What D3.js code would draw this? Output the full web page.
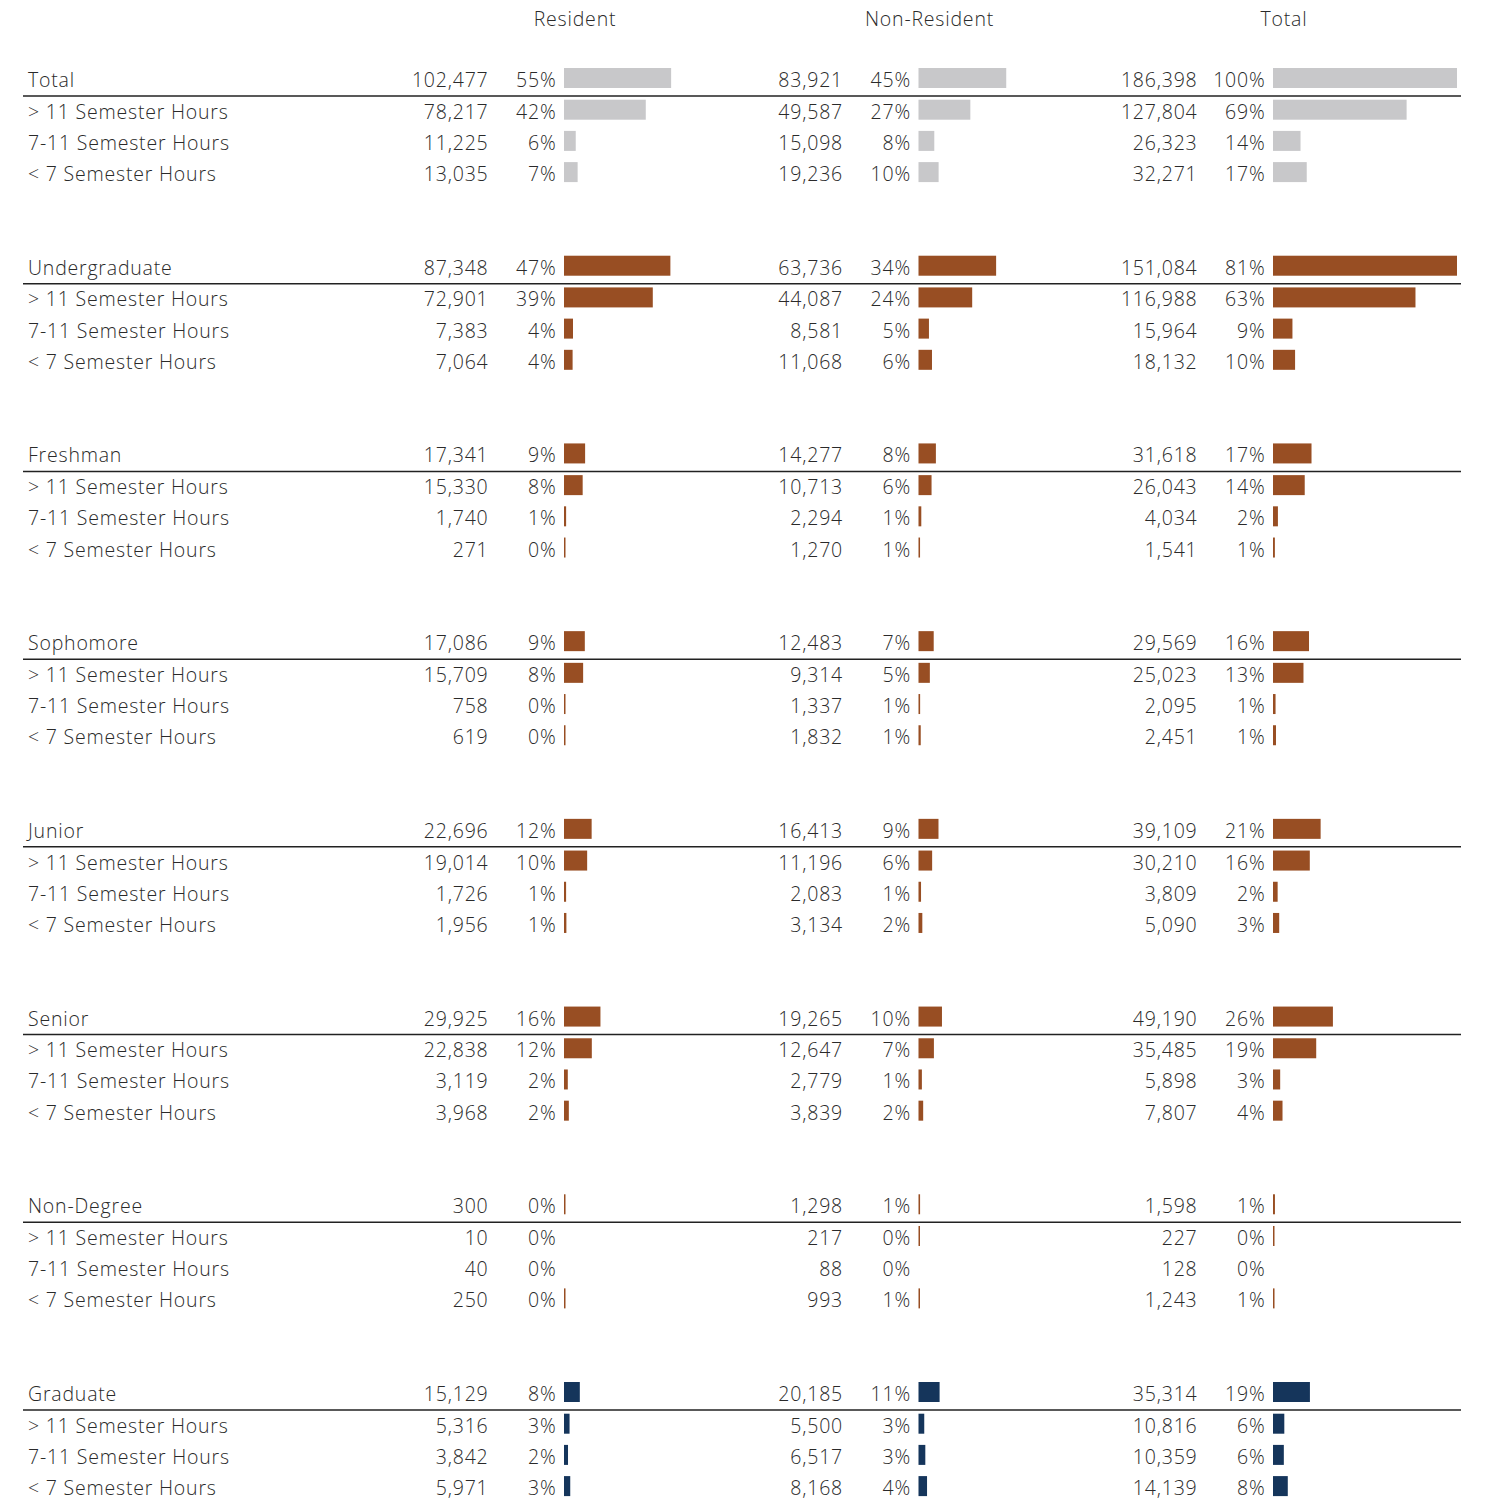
<!DOCTYPE html>
<html>
<head>
<meta charset="utf-8">
<script src="https://d3js.org/d3.v7.min.js"></script>
<style>
  body { margin: 0; background: #fff; }
  text { font-family: "Open Sans", sans-serif; font-weight: 300; fill: #2a2a2a; font-size: 19.5px; letter-spacing: 0.8px; }
</style>
</head>
<body>
<div id="chartHolder"></div>
<script>
// columns, groups and sub rows of the table
const columns = ["Resident", "Non-Resident", "Total"];
const groups = ["Total", "Undergraduate", "Freshman", "Sophomore", "Junior", "Senior", "Non-Degree", "Graduate"];
const subRows = ["> 11 Semester Hours", "7-11 Semester Hours", "< 7 Semester Hours"];

// one entry per group: [group total, >11, 7-11, <7]
const residentValues = [
  [102477, 78217, 11225, 13035],
  [87348, 72901, 7383, 7064],
  [17341, 15330, 1740, 271],
  [17086, 15709, 758, 619],
  [22696, 19014, 1726, 1956],
  [29925, 22838, 3119, 3968],
  [300, 10, 40, 250],
  [15129, 5316, 3842, 5971]
];
const nonResidentValues = [
  [83921, 49587, 15098, 19236],
  [63736, 44087, 8581, 11068],
  [14277, 10713, 2294, 1270],
  [12483, 9314, 1337, 1832],
  [16413, 11196, 2083, 3134],
  [19265, 12647, 2779, 3839],
  [1298, 217, 88, 993],
  [20185, 5500, 6517, 8168]
];
const totalValues = [
  [186398, 127804, 26323, 32271],
  [151084, 116988, 15964, 18132],
  [31618, 26043, 4034, 1541],
  [29569, 25023, 2095, 2451],
  [39109, 30210, 3809, 5090],
  [49190, 35485, 5898, 7807],
  [1598, 227, 128, 1243],
  [35314, 10816, 10359, 14139]
];
// each panel had its own bar axis (the undergrad panels share one)
const barAxisMax = [176000, 151084, 151084, 151084, 151084, 151084, 151084, 176000];

const grandTotal = totalValues[0][0];
const colValues = [residentValues, nonResidentValues, totalValues];

const w = 1486;
const h = 1502;
const barW = 184;
const barH = 20;
const rowStep = 31.2;

const groupColor = g => g === "Total" ? "#c8c8ca" : (g === "Graduate" ? "#15355b" : "#984e23");

const svg = d3.select("#chartHolder").append("svg")
  .attr("width", w)
  .attr("height", h);

// bar start of each column
const xCol = d3.scalePoint().domain(columns).range([564, 1273]);
// center of each group's header row
const yGroup = d3.scalePoint().domain(groups).range([78, 1392]);

const fmtNum = d3.format(",");
const fmtPct = d3.format(".0%");

// column headers
svg.selectAll(".colHead")
  .data(columns)
  .enter().append("text")
    .attr("class", "colHead")
    .attr("x", c => xCol(c) + 11)
    .attr("y", 26)
    .attr("text-anchor", "middle")
    .text(c => c);

// flatten into rows
const rows = [];
groups.forEach((g, gi) => {
  [""].concat(subRows).forEach((s, si) => {
    rows.push({
      group: g, gi: gi, si: si,
      label: si === 0 ? g : s,
      y: yGroup(g) + si * rowStep + (si > 0 ? 0.5 : 0)
    });
  });
});

const rowG = svg.selectAll(".row")
  .data(rows)
  .enter().append("g")
    .attr("class", "row")
    .attr("transform", d => "translate(0," + d.y + ")");

rowG.append("text")
  .attr("x", 28)
  .attr("y", 9)
  .text(d => d.label);

columns.forEach((c, ci) => {
  const x0 = xCol(c);
  rowG.append("text")
    .attr("x", x0 - 75.5)
    .attr("y", 9)
    .attr("text-anchor", "end")
    .text(d => fmtNum(colValues[ci][d.gi][d.si]));

  rowG.append("text")
    .attr("x", x0 - 7.5)
    .attr("y", 9)
    .attr("text-anchor", "end")
    .text(d => fmtPct(colValues[ci][d.gi][d.si] / grandTotal));

  rowG.append("rect")
    .attr("x", x0)
    .attr("y", -barH / 2)
    .attr("height", barH)
    .attr("width", d => {
      const sc = d3.scaleLinear().domain([0, barAxisMax[d.gi]]).range([0, barW]).clamp(true);
      const bw = sc(colValues[ci][d.gi][d.si]);
      return bw < 0.2 ? 0 : Math.max(1.5, bw); // tiny values still show as a hairline
    })
    .attr("fill", d => groupColor(d.group));
});

// rule under each group header
svg.selectAll(".rule")
  .data(groups)
  .enter().append("line")
    .attr("class", "rule")
    .attr("x1", 23)
    .attr("x2", 1461)
    .attr("y1", g => yGroup(g) + 18)
    .attr("y2", g => yGroup(g) + 18)
    .attr("stroke", "#222")
    .attr("stroke-width", 1.5);
</script>
</body>
</html>
